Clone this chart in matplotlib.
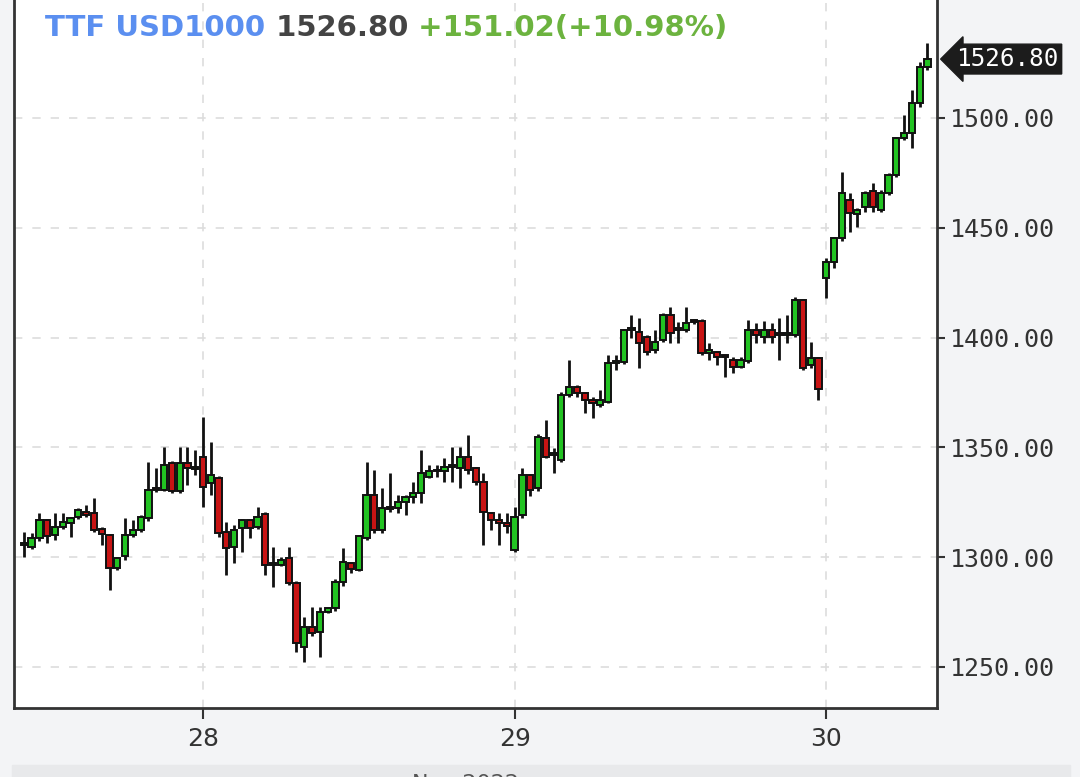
import matplotlib.pyplot as plt
import matplotlib.transforms as mtransforms
from matplotlib.patches import Rectangle

# 15-min candles, 40 per session; index 0 = first candle of the 28th
candle_idx = list(range(-23, 94))
opens = [1305.5, 1304.7, 1308.6, 1316.9, 1310.0, 1313.9, 1315.4, 1318.4, 1320.7, 1320.0,
         1313.0, 1310.0, 1294.9, 1300.3, 1310.0, 1312.4, 1317.7, 1331.0, 1330.6, 1342.7,
         1329.9, 1342.7, 1340.3,
         1345.8, 1333.6, 1335.9, 1311.6, 1304.8, 1313.1, 1317.0, 1313.9, 1319.7, 1296.4,
         1296.4, 1299.5, 1288.4, 1259.2, 1268.4, 1266.1, 1275.2, 1276.7, 1288.5, 1297.2,
         1294.2, 1308.6, 1328.3, 1312.4, 1322.0, 1322.2, 1325.3, 1327.5, 1329.0, 1336.7,
         1339.0, 1339.0, 1341.2, 1340.5, 1345.8, 1340.5, 1334.4, 1320.0, 1317.0, 1315.4,
         1303.3, 1319.2, 1337.4, 1331.4, 1354.1, 1346.5, 1344.2, 1373.9, 1377.6, 1374.6,
         1371.6, 1369.4, 1370.8, 1388.3, 1389.0, 1403.5, 1402.7, 1400.4, 1394.4, 1398.9,
         1410.3, 1403.5, 1403.5, 1407.5, 1407.3, 1392.8, 1393.6, 1391.3, 1389.8, 1386.8,
         1389.1, 1403.5, 1400.4, 1403.5, 1401.5, 1401.2, 1401.2, 1417.1, 1387.5, 1390.5,
         1427.0, 1434.6, 1445.2, 1462.7, 1456.1, 1459.6, 1466.5, 1458.1, 1465.7, 1474.1,
         1490.7, 1493.0, 1506.7, 1523.4]
highs = [1311.5, 1311.0, 1320.0, 1317.5, 1320.0, 1320.0, 1318.5, 1322.3, 1323.8, 1326.8,
         1313.5, 1310.5, 1300.0, 1317.7, 1317.0, 1319.0, 1343.5, 1340.5, 1350.3, 1344.0,
         1350.3, 1350.3, 1348.8,
         1364.0, 1352.6, 1337.0, 1316.2, 1314.7, 1317.5, 1317.5, 1323.0, 1320.5, 1304.8,
         1300.2, 1304.8, 1289.0, 1272.9, 1277.4, 1277.4, 1277.5, 1290.0, 1304.0, 1298.0,
         1310.0, 1343.5, 1339.7, 1331.4, 1338.2, 1328.3, 1328.5, 1334.4, 1348.8, 1342.0,
         1342.0, 1345.0, 1350.3, 1350.3, 1355.6, 1341.0, 1338.2, 1320.5, 1320.0, 1320.0,
         1323.0, 1340.5, 1338.0, 1356.0, 1362.5, 1349.6, 1375.0, 1389.8, 1378.5, 1375.0,
         1373.0, 1376.0, 1392.0, 1392.0, 1404.0, 1410.3, 1408.8, 1401.0, 1403.5, 1411.0,
         1414.0, 1407.2, 1414.0, 1408.5, 1408.5, 1397.4, 1394.0, 1392.0, 1391.0, 1391.0,
         1408.0, 1406.5, 1407.3, 1406.5, 1408.8, 1410.3, 1418.6, 1417.5, 1398.0, 1391.3,
         1436.0, 1446.0, 1475.6, 1465.7, 1459.0, 1466.5, 1470.3, 1467.0, 1475.0, 1491.5,
         1501.4, 1512.7, 1525.6, 1534.0]
lows = [1300.0, 1303.5, 1307.5, 1306.5, 1307.8, 1313.0, 1309.3, 1317.5, 1318.5, 1311.5,
        1305.5, 1285.0, 1294.0, 1298.7, 1309.0, 1311.5, 1316.5, 1329.5, 1330.0, 1329.0,
        1329.0, 1332.9, 1337.4,
        1323.0, 1328.3, 1309.0, 1291.9, 1297.2, 1302.5, 1308.6, 1313.0, 1291.9, 1286.6,
        1296.0, 1287.5, 1257.0, 1252.4, 1264.0, 1254.7, 1274.5, 1275.5, 1287.0, 1293.0,
        1293.5, 1308.0, 1311.0, 1310.9, 1320.5, 1320.0, 1319.2, 1324.5, 1324.5, 1336.0,
        1336.7, 1334.4, 1334.4, 1331.4, 1338.0, 1333.0, 1305.6, 1312.4, 1305.6, 1310.9,
        1302.5, 1318.0, 1328.0, 1330.0, 1345.0, 1338.2, 1343.5, 1373.0, 1373.0, 1365.5,
        1363.3, 1368.5, 1370.0, 1385.2, 1388.0, 1399.7, 1386.0, 1392.0, 1393.0, 1398.0,
        1397.4, 1397.4, 1402.7, 1406.0, 1392.0, 1389.8, 1387.5, 1382.2, 1383.7, 1386.0,
        1388.5, 1397.4, 1397.4, 1397.4, 1389.8, 1397.4, 1400.4, 1385.0, 1386.0, 1371.6,
        1417.9, 1431.5, 1444.0, 1448.2, 1450.5, 1457.0, 1457.3, 1457.0, 1465.0, 1473.0,
        1490.0, 1486.2, 1505.0, 1522.0]
closes = [1305.8, 1308.6, 1316.9, 1309.6, 1313.9, 1316.2, 1317.7, 1321.5, 1319.2, 1312.4,
          1310.5, 1294.9, 1299.5, 1310.0, 1312.4, 1318.5, 1330.6, 1330.6, 1342.0, 1329.9,
          1342.7, 1340.5, 1340.8,
          1332.1, 1337.4, 1310.9, 1304.0, 1312.4, 1317.0, 1313.1, 1318.5, 1296.4, 1296.6,
          1298.7, 1288.1, 1260.8, 1268.4, 1265.3, 1275.2, 1276.7, 1288.5, 1298.0, 1294.5,
          1309.4, 1328.3, 1312.4, 1322.2, 1321.8, 1325.0, 1327.5, 1329.4, 1338.2, 1339.0,
          1339.2, 1341.2, 1341.3, 1345.8, 1339.7, 1334.4, 1320.7, 1317.0, 1315.4, 1314.0,
          1318.5, 1337.4, 1330.6, 1354.9, 1345.8, 1346.5, 1373.9, 1377.6, 1374.6, 1371.6,
          1370.2, 1371.6, 1388.3, 1389.0, 1403.5, 1403.8, 1397.4, 1393.6, 1398.1, 1410.3,
          1402.0, 1403.3, 1406.5, 1407.0, 1392.8, 1394.3, 1391.3, 1391.0, 1386.8, 1389.8,
          1403.5, 1401.2, 1403.5, 1400.4, 1401.3, 1401.5, 1417.1, 1386.0, 1390.5, 1376.5,
          1434.6, 1445.2, 1466.0, 1456.6, 1458.1, 1465.7, 1459.6, 1465.7, 1474.1, 1490.7,
          1493.0, 1506.7, 1523.4, 1526.8]

day_ticks = [0, 40, 80]
day_labels = ["28", "29", "30"]
price_ticks = [1250, 1300, 1350, 1400, 1450, 1500]

last_price = 1526.80
change = 151.02
change_pct = 10.98

bg = "#f3f4f6"
up_col = "#22c322"
down_col = "#c81414"

fig = plt.figure(figsize=(10.8, 7.77), dpi=100, facecolor=bg)
ax = fig.add_axes([14 / 1080, 69 / 777, 923 / 1080, 708 / 777])
ax.set_facecolor("white")

# wicks
ax.vlines(candle_idx, lows, highs, color="#111111", lw=2.0, zorder=2)

# bodies
bottoms = [min(o, c) for o, c in zip(opens, closes)]
heights = [max(abs(c - o), 0.9) for o, c in zip(opens, closes)]
colors = [up_col if c >= o else down_col for o, c in zip(opens, closes)]
ax.bar(candle_idx, heights, bottom=bottoms, width=0.8, color=colors,
       edgecolor="#111111", linewidth=1.4, zorder=3)

ax.set_xlim(-24.26, 94.22)
ax.set_ylim(1231.3, 1553.7)

ax.set_xticks(day_ticks)
ax.set_xticklabels(day_labels)
ax.set_yticks(price_ticks)
ax.set_yticklabels([f"{p:.2f}" for p in price_ticks])
ax.yaxis.tick_right()

ax.grid(True, ls=(0, (5, 6)), color="#dddddd", lw=1.2, zorder=0)

for side in ["left", "bottom", "right"]:
    ax.spines[side].set_color("#333333")
    ax.spines[side].set_linewidth(2)
ax.spines["top"].set_visible(False)

ax.tick_params(axis="y", direction="out", length=6, width=1.5, color="#333333",
               labelcolor="#333333", labelsize=18, pad=3)
ax.tick_params(axis="x", direction="out", length=8, width=1.5, color="#333333",
               labelcolor="#333333", labelsize=18, pad=6)
for lab in ax.get_yticklabels():
    lab.set_fontfamily("DejaVu Sans Mono")

# header line
t1 = ax.text(0.034, 0.96, "TTF USD1000", transform=ax.transAxes, color="#5b8ff0",
             fontsize=21, fontweight="bold", va="center")
t2 = ax.annotate(f" {last_price:.2f}", xy=(1, 0), xycoords=t1, color="#444444",
                 fontsize=21, fontweight="bold", va="bottom")
ax.annotate(f" +{change:.2f}(+{change_pct:.2f}%)", xy=(1, 0), xycoords=t2,
            color="#6cb33f", fontsize=21, fontweight="bold", va="bottom")

# last price marker on the right axis
trans = mtransforms.blended_transform_factory(ax.transAxes, ax.transData)
ax.text(1.021, last_price, f"{last_price:.2f}", transform=trans, color="white",
        fontsize=17.5, family="DejaVu Sans Mono", va="center", ha="left",
        bbox=dict(boxstyle="larrow,pad=0.12", fc="#1c1c1c", ec="#1c1c1c"),
        clip_on=False, zorder=5)

# strip under the chart with the month label
fig.patches.append(Rectangle((12 / 1080, 0), 1058 / 1080, 12 / 777,
                             transform=fig.transFigure, color="#e8e9eb", zorder=0))
fig.text(465 / 1080, 3 / 777, "Nov 2022", color="#555555", fontsize=16,
         ha="center", va="top")

fig.savefig("out.png", dpi=100, facecolor=bg)
